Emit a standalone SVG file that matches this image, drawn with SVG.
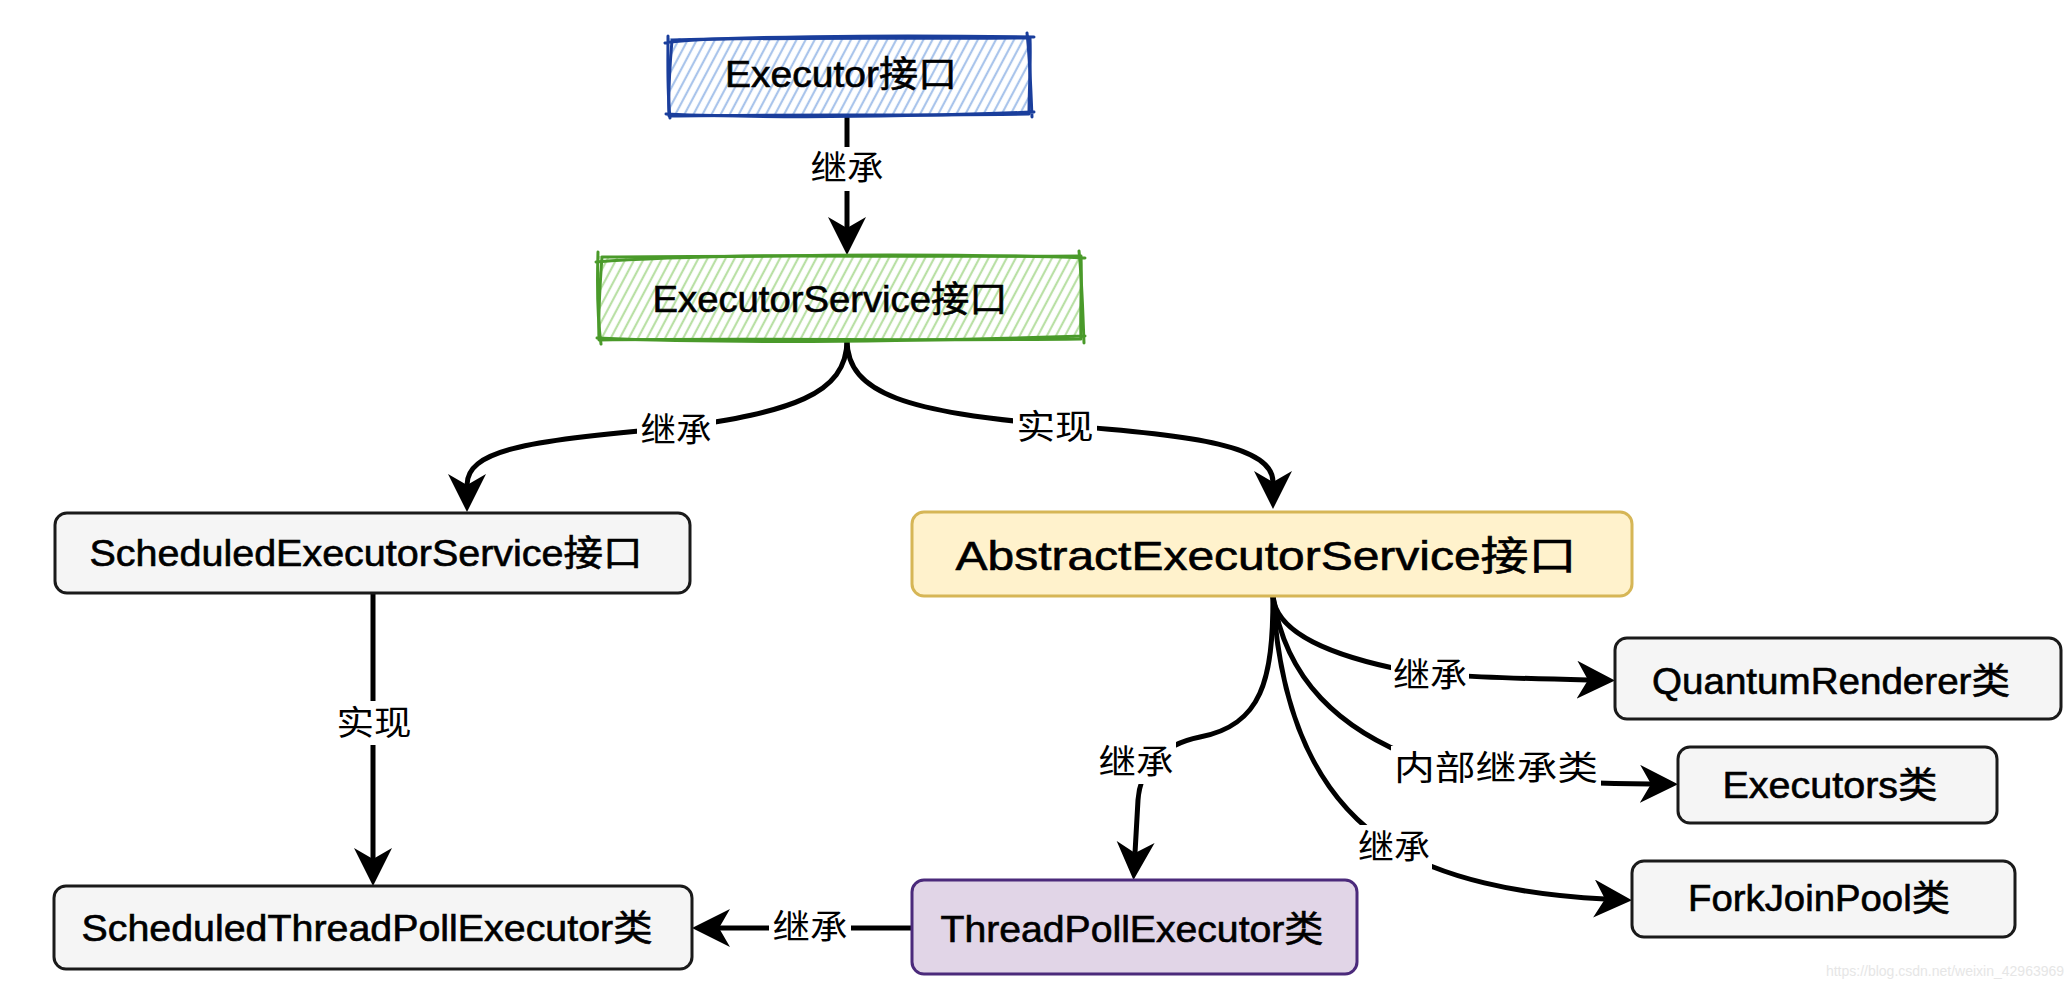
<svg xmlns="http://www.w3.org/2000/svg" width="2072" height="990" viewBox="0 0 2072 990">
  <defs>
    <pattern id="hatchB" width="8" height="8" patternUnits="userSpaceOnUse" patternTransform="rotate(28)">
      <line x1="2" y1="0" x2="2" y2="8" stroke="#a9c4eb" stroke-width="2.2"/>
    </pattern>
    <pattern id="hatchG" width="8" height="8" patternUnits="userSpaceOnUse" patternTransform="rotate(28)">
      <line x1="2" y1="0" x2="2" y2="8" stroke="#b9e0a5" stroke-width="2.2"/>
    </pattern>
    <marker id="arr" markerUnits="userSpaceOnUse" markerWidth="40" markerHeight="40" refX="11" refY="19" orient="auto" viewBox="0 0 40 40">
      <path d="M0,0 L38,19 L0,38 L11,19 Z" fill="#000"/>
    </marker>
    <style>
      .node text, .lbl text { font-family: "Liberation Sans", "Noto Sans CJK SC", sans-serif; fill: #000; text-anchor: middle; }
      .node text { font-size: 36px; stroke: #000; stroke-width: 0.6px; }
      .big text { font-size: 40px; }
      .lbl text { font-size: 34px; }
      .lbl rect { fill: #fff; }
      .edge { fill: none; stroke: #000; stroke-width: 5; marker-end: url(#arr); }
      .gray rect { fill: #f5f5f5; stroke: #1a1a1a; stroke-width: 3; }
      .yellow rect { fill: #fff2cc; stroke: #d6b656; stroke-width: 3; }
      .purple rect { fill: #e1d5e7; stroke: #4b2a7b; stroke-width: 3; }
      .skB { fill: none; stroke: #1a3e9c; stroke-width: 3; stroke-linecap: round; stroke-linejoin: round; }
      .skG { fill: none; stroke: #4a9a2a; stroke-width: 3; stroke-linecap: round; stroke-linejoin: round; }
    </style>
  </defs>

  <rect width="2072" height="990" fill="#fff"/>

  <!-- connectors -->
  <g id="connectors">
    <path class="edge" d="M847,115 L847,228"/>
    <path class="edge" d="M847,340 C847,395 790,412 676,428 C520,440 467,452 467,485"/>
    <path class="edge" d="M847,340 C847,395 910,412 1055,425 C1200,435 1273,447 1273,482"/>
    <path class="edge" d="M373,593 L373,859"/>
    <path class="edge" d="M912,928 L719,928"/>
    <path class="edge" d="M1273,596 C1273,680 1262,725 1200,737 C1160,745 1140,770 1138,800 L1135,853"/>
    <path class="edge" d="M1273,596 C1275,625 1310,650 1393,668 C1420,674 1450,677 1588,680"/>
    <path class="edge" d="M1273,596 C1285,680 1340,730 1420,760 C1480,778 1560,783 1651,784"/>
    <path class="edge" d="M1273,596 C1280,720 1320,800 1390,845 C1440,878 1520,895 1605,899"/>

    <g class="lbl">
      <rect x="808" y="147" width="79" height="44"/><text x="847" y="180" textLength="73" lengthAdjust="spacingAndGlyphs">继承</text>
      <rect x="637" y="408" width="79" height="44"/><text x="676" y="442" textLength="71" lengthAdjust="spacingAndGlyphs">继承</text>
      <rect x="1013" y="405" width="84" height="44"/><text x="1055" y="439" textLength="77" lengthAdjust="spacingAndGlyphs">实现</text>
      <rect x="333" y="701" width="82" height="44"/><text x="374" y="735" textLength="75" lengthAdjust="spacingAndGlyphs">实现</text>
      <rect x="769" y="905" width="82" height="44"/><text x="810" y="939" textLength="75" lengthAdjust="spacingAndGlyphs">继承</text>
      <rect x="1391" y="653" width="78" height="44"/><text x="1430" y="687" textLength="74" lengthAdjust="spacingAndGlyphs">继承</text>
      <rect x="1391" y="746" width="210" height="44"/><text x="1496" y="780" textLength="204" lengthAdjust="spacingAndGlyphs">内部继承类</text>
      <rect x="1356" y="825" width="76" height="44"/><text x="1394" y="859" textLength="72" lengthAdjust="spacingAndGlyphs">继承</text>
      <rect x="1097" y="740" width="79" height="44"/><text x="1136" y="774" textLength="75" lengthAdjust="spacingAndGlyphs">继承</text>
    </g>
  </g>

  <!-- nodes -->
  <g id="executor" class="node">
    <rect x="668" y="38" width="362" height="77" fill="url(#hatchB)"/>
    <path class="skB" d="M672,40 C780,37 920,39 1030,38 C1031,62 1029,90 1029,114 C900,116 780,114 669,116 C668,92 670,64 672,40 Z"/>
    <path class="skB" stroke-width="2" d="M665,43 C700,36 900,35 1034,37 M1027,33 C1030,60 1031,95 1032,117 M1034,112 C900,117 760,118 666,114 M670,118 C667,90 668,62 668,36"/>
    <text x="841" y="87" textLength="232" lengthAdjust="spacingAndGlyphs">Executor接口</text>
  </g>

  <g id="executorService" class="node">
    <rect x="598" y="256" width="484" height="84" fill="url(#hatchG)"/>
    <path class="skG" d="M602,257 C750,255 930,257 1081,256 C1082,284 1080,312 1081,339 C920,341 760,338 599,340 C598,312 600,284 602,257 Z"/>
    <path class="skG" stroke-width="2" d="M596,262 C700,254 950,253 1085,258 M1079,251 C1082,280 1083,318 1084,343 M1085,336 C900,342 740,344 597,338 M601,344 C597,315 597,285 598,252"/>
    <text x="830" y="312" textLength="355" lengthAdjust="spacingAndGlyphs">ExecutorService接口</text>
  </g>

  <g id="scheduledExecutorService" class="node gray">
    <rect x="55" y="513" width="635" height="80" rx="12"/>
    <text x="366" y="566" textLength="553" lengthAdjust="spacingAndGlyphs">ScheduledExecutorService接口</text>
  </g>

  <g id="abstractExecutorService" class="node big yellow">
    <rect x="912" y="512" width="720" height="84" rx="12"/>
    <text x="1266" y="570" textLength="621" lengthAdjust="spacingAndGlyphs">AbstractExecutorService接口</text>
  </g>

  <g id="quantumRenderer" class="node gray">
    <rect x="1615" y="638" width="446" height="81" rx="12"/>
    <text x="1831" y="694" textLength="358" lengthAdjust="spacingAndGlyphs">QuantumRenderer类</text>
  </g>

  <g id="executors" class="node gray">
    <rect x="1678" y="747" width="319" height="76" rx="12"/>
    <text x="1830" y="798" textLength="215" lengthAdjust="spacingAndGlyphs">Executors类</text>
  </g>

  <g id="forkJoinPool" class="node gray">
    <rect x="1632" y="861" width="383" height="76" rx="12"/>
    <text x="1819" y="911" textLength="262" lengthAdjust="spacingAndGlyphs">ForkJoinPool类</text>
  </g>

  <g id="threadPollExecutor" class="node purple">
    <rect x="912" y="880" width="445" height="94" rx="12"/>
    <text x="1132" y="942" textLength="383" lengthAdjust="spacingAndGlyphs">ThreadPollExecutor类</text>
  </g>

  <g id="scheduledThreadPollExecutor" class="node gray">
    <rect x="54" y="886" width="638" height="83" rx="12"/>
    <text x="367" y="941" textLength="571" lengthAdjust="spacingAndGlyphs">ScheduledThreadPollExecutor类</text>
  </g>

  <text x="1945" y="976" font-family="Liberation Sans, sans-serif" font-size="14" fill="#e6e6e6" text-anchor="middle">https://blog.csdn.net/weixin_42963969</text>
</svg>
